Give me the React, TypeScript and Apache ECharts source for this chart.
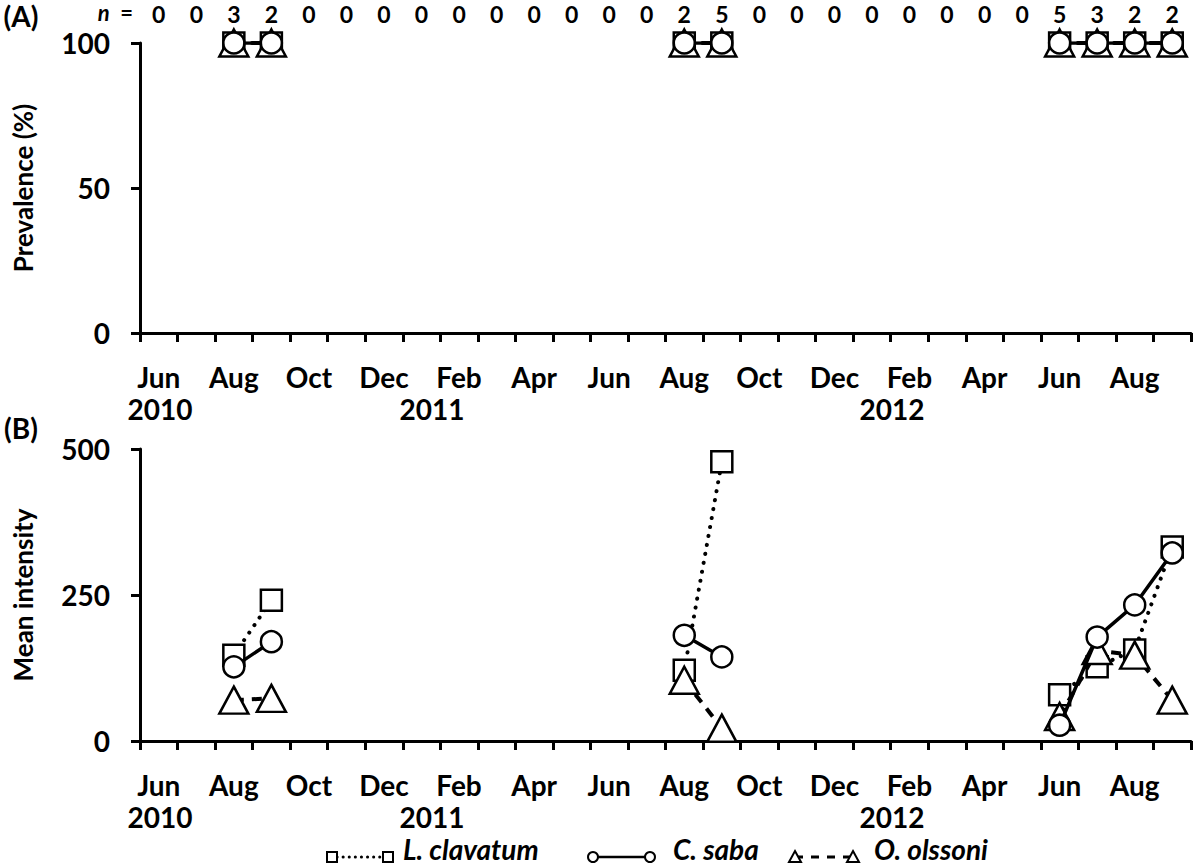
import React, { useEffect, useRef } from "react";
import * as echarts from "echarts";

const N = null;
const months = ["Jun","Jul","Aug","Sep","Oct","Nov","Dec","Jan","Feb","Mar","Apr","May","Jun","Jul","Aug","Sep","Oct","Nov","Dec","Jan","Feb","Mar","Apr","May","Jun","Jul","Aug","Sep"];
const sampleSizes = [0,0,3,2,0,0,0,0,0,0,0,0,0,0,2,5,0,0,0,0,0,0,0,0,5,3,2,2];

const prevClavatum = [N,N,100,100,N,N,N,N,N,N,N,N,N,N,100,100,N,N,N,N,N,N,N,N,100,100,100,100];
const prevSaba = [N,N,100,100,N,N,N,N,N,N,N,N,N,N,100,100,N,N,N,N,N,N,N,N,100,100,100,100];
const prevOlssoni = [N,N,100,100,N,N,N,N,N,N,N,N,N,N,100,100,N,N,N,N,N,N,N,N,100,100,100,100];

const intClavatum = [N,N,147,241,N,N,N,N,N,N,N,N,N,N,121,478,N,N,N,N,N,N,N,N,79,127,156,332];
const intSaba = [N,N,127,170,N,N,N,N,N,N,N,N,N,N,181,144,N,N,N,N,N,N,N,N,27,178,233,322];
const intOlssoni = [N,N,70,73,N,N,N,N,N,N,N,N,N,N,104,22,N,N,N,N,N,N,N,N,42,155,147,70];

const prevTicks = { min: 0, max: 100, interval: 50 };
const intTicks = { min: 0, max: 500, interval: 250 };
const years = ["2010", "2011", "2012"];

const FONT = "Lato";
const BLACK = "#000";

export default function App() {
  const ref = useRef<HTMLDivElement>(null);
  useEffect(() => {
    document.body.style.margin = "0";
    const chart = echarts.init(ref.current!, undefined, { renderer: "svg" });

    const gridLeft = 140;
    const gridRight = 9;
    const grids = [
      { left: gridLeft, right: gridRight, top: 43, height: 290 },
      { left: gridLeft, right: gridRight, top: 449, height: 292 },
    ];

    const monthAxis = (gi: number) => ({
      type: "category",
      gridIndex: gi,
      data: months,
      boundaryGap: true,
      axisLine: { show: true, lineStyle: { color: BLACK, width: 3 } },
      axisTick: { show: true, interval: 0, length: 9, lineStyle: { color: BLACK, width: 3 } },
      axisLabel: {
        interval: 1,
        color: BLACK,
        fontFamily: FONT,
        fontWeight: "bold",
        fontSize: 28,
        margin: 30,
      },
      splitLine: { show: false },
    });

    const valAxis = (gi: number, t: any, name: string) => ({
      type: "value",
      gridIndex: gi,
      min: t.min,
      max: t.max,
      interval: t.interval,
      name,
      nameLocation: "middle",
      nameRotate: 90,
      nameGap: 104,
      nameTextStyle: { color: BLACK, fontFamily: FONT, fontWeight: "bold", fontSize: 26 },
      axisLine: { show: true, lineStyle: { color: BLACK, width: 3 } },
      axisTick: { show: true, length: 9, lineStyle: { color: BLACK, width: 3 } },
      axisLabel: { color: BLACK, fontFamily: FONT, fontWeight: "bold", fontSize: 28, margin: 30 },
      splitLine: { show: false },
    });

    const dotted = { color: BLACK, width: 4, type: [0.1, 9], cap: "round" };
    const solid = { color: BLACK, width: 3.5, type: "solid" };
    const dashed = { color: BLACK, width: 4, type: [10, 8] };
    const sym = { color: "#fff", borderColor: BLACK, borderWidth: 2.5 };

    const mk = (name: string, data: any[], gi: number, symbol: string, size: any, ls: any, z: number) => ({
      name,
      type: "line",
      xAxisIndex: gi,
      yAxisIndex: gi,
      data,
      symbol,
      symbolSize: size,
      showSymbol: true,
      showAllSymbol: true,
      connectNulls: false,
      lineStyle: ls,
      itemStyle: sym,
      z,
      emphasis: { disabled: true },
    });

    const txt = (text: string, x: number, y: number, extra: any = {}) => ({
      type: "text",
      x,
      y,
      style: {
        text,
        fill: BLACK,
        font: `bold 28px ${FONT}`,
        textAlign: "center",
        textVerticalAlign: "middle",
        ...extra,
      },
    });

    const legendY = 857;
    const textY = 849;
    const legFont = `italic bold 28px ${FONT}`;
    const legend: any[] = [
      // L. clavatum
      { type: "line", shape: { x1: 337, y1: legendY, x2: 384, y2: legendY }, style: { stroke: BLACK, lineWidth: 3, lineDash: [0.1, 6], lineCap: "round" } },
      { type: "rect", shape: { x: 327, y: legendY - 5, width: 10, height: 10 }, style: { stroke: BLACK, fill: "#fff", lineWidth: 2 } },
      { type: "rect", shape: { x: 383, y: legendY - 5, width: 10, height: 10 }, style: { stroke: BLACK, fill: "#fff", lineWidth: 2 } },
      { type: "text", x: 403, y: textY, style: { text: "L. clavatum", fill: BLACK, font: legFont, textAlign: "left", textVerticalAlign: "middle" } },
      // C. saba
      { type: "line", shape: { x1: 593, y1: legendY, x2: 650, y2: legendY }, style: { stroke: BLACK, lineWidth: 2.5 } },
      { type: "circle", shape: { cx: 593, cy: legendY, r: 5 }, style: { stroke: BLACK, fill: "#fff", lineWidth: 2 } },
      { type: "circle", shape: { cx: 650, cy: legendY, r: 5 }, style: { stroke: BLACK, fill: "#fff", lineWidth: 2 } },
      { type: "text", x: 673, y: textY, style: { text: "C. saba", fill: BLACK, font: legFont, textAlign: "left", textVerticalAlign: "middle" } },
      // O. olssoni
      { type: "line", shape: { x1: 795, y1: legendY, x2: 853, y2: legendY }, style: { stroke: BLACK, lineWidth: 3, lineDash: [8, 8] } },
      { type: "polygon", shape: { points: [[795, legendY - 6], [801, legendY + 5], [789, legendY + 5]] }, style: { stroke: BLACK, fill: "#fff", lineWidth: 2 } },
      { type: "polygon", shape: { points: [[853, legendY - 6], [859, legendY + 5], [847, legendY + 5]] }, style: { stroke: BLACK, fill: "#fff", lineWidth: 2 } },
      { type: "text", x: 874, y: textY, style: { text: "O. olssoni", fill: BLACK, font: legFont, textAlign: "left", textVerticalAlign: "middle" } },
    ];

    const option: any = {
      animation: false,
      backgroundColor: "#fff",
      textStyle: { fontFamily: FONT },
      grid: grids,
      xAxis: [
        monthAxis(0),
        monthAxis(1),
        {
          type: "category",
          gridIndex: 0,
          position: "top",
          data: sampleSizes.map(String),
          boundaryGap: true,
          axisLine: { show: false },
          axisTick: { show: false },
          axisLabel: { interval: 0, color: BLACK, fontFamily: FONT, fontWeight: "bold", fontSize: 23, margin: 18 },
          splitLine: { show: false },
        },
      ],
      yAxis: [valAxis(0, prevTicks, "Prevalence (%)"), valAxis(1, intTicks, "Mean intensity")],
      series: [
        mk("L. clavatum", prevClavatum, 0, "rect", 21, dotted, 2),
        mk("O. olssoni", prevOlssoni, 0, "triangle", [29, 27], dashed, 3),
        mk("C. saba", prevSaba, 0, "circle", 21, solid, 4),
        mk("L. clavatum", intClavatum, 1, "rect", 21, dotted, 2),
        mk("O. olssoni", intOlssoni, 1, "triangle", [29, 27], dashed, 3),
        mk("C. saba", intSaba, 1, "circle", 21, solid, 4),
      ],
      graphic: [
        txt("(A)", 21, 16, { font: `bold 28px ${FONT}` }),
        txt("(B)", 21, 428, { font: `bold 28px ${FONT}` }),
        {
          type: "text",
          x: 133,
          y: 12,
          style: {
            text: "{i|n}  =",
            textAlign: "right",
            textVerticalAlign: "middle",
            fill: BLACK,
            font: `bold 22px ${FONT}`,
            rich: { i: { fontStyle: "italic", fontWeight: "bold", fontSize: 22, fontFamily: FONT, fill: BLACK } },
          },
        },
        txt(years[0], 160, 409),
        txt(years[1], 432, 409),
        txt(years[2], 892, 409),
        txt(years[0], 160, 817),
        txt(years[1], 432, 817),
        txt(years[2], 892, 817),
        ...legend,
      ],
    };
    chart.setOption(option);
    return () => chart.dispose();
  }, []);
  return <div ref={ref} style={{ width: 1200, height: 868 }} />;
}
